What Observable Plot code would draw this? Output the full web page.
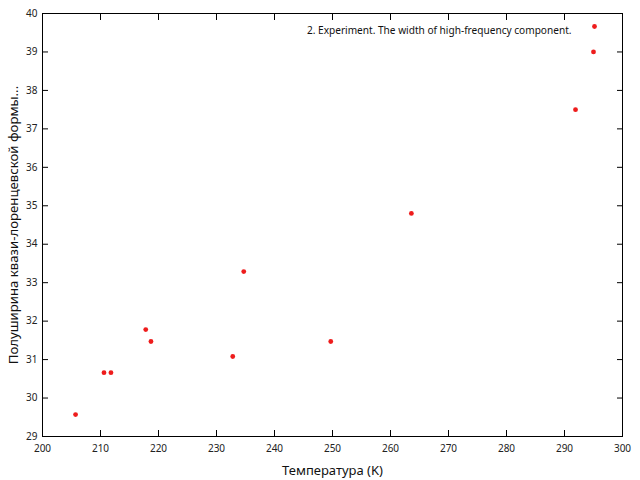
<!DOCTYPE html>
<html>
<head>
<meta charset="utf-8">
<script src="https://cdn.jsdelivr.net/npm/d3@7"></script>
<script src="https://cdn.jsdelivr.net/npm/@observablehq/plot@0.6"></script>
<style>
  html, body { margin: 0; padding: 0; background: #fff; }
  svg { font-family: "Noto Sans", "Open Sans", sans-serif; }
</style>
</head>
<body>
<div id="chart"></div>
<script>
const temperature = [205.7, 210.6, 211.8, 217.8, 218.7, 232.8, 234.7, 249.7, 263.6, 291.9, 295.0];
const halfWidth   = [29.57, 30.66, 30.66, 31.78, 31.47, 31.08, 33.29, 31.47, 34.80, 37.50, 39.00];
const xTicks = [200, 210, 220, 230, 240, 250, 260, 270, 280, 290, 300];
const yTicks = [29, 30, 31, 32, 33, 34, 35, 36, 37, 38, 39, 40];
const legendLabel = "2. Experiment. The width of high-frequency component.";
const xLabel = "Температура (K)";
const yLabel = "Полуширина квази-лоренцевской формы...";

const data = temperature.map((t, i) => ({t, w: halfWidth[i]}));
const red = "#ee1c1c";

const chart = Plot.plot({
  width: 640,
  height: 480,
  marginLeft: 42,
  marginRight: 18,
  marginTop: 13,
  marginBottom: 44,
  style: {fontFamily: "Noto Sans, Open Sans, sans-serif", fontSize: "10px", color: "#222"},
  x: {domain: [200, 300]},
  y: {domain: [29, 40]},
  marks: [
    Plot.frame({stroke: "#000"}),
    Plot.axisX(xTicks, {anchor: "bottom", tickSize: -6, tickFormat: () => "", label: null, stroke: "#000"}),
    Plot.axisX(xTicks, {anchor: "top", tickSize: -6, tickFormat: () => "", label: null, stroke: "#000"}),
    Plot.axisY(yTicks, {anchor: "left", tickSize: -6, tickFormat: () => "", label: null, stroke: "#000"}),
    Plot.axisY(yTicks, {anchor: "right", tickSize: -6, tickFormat: () => "", label: null, stroke: "#000"}),
    Plot.axisX(xTicks, {anchor: "bottom", tickSize: 0, tickPadding: 8, fontSize: 10, label: null}),
    Plot.axisY(yTicks, {anchor: "left", tickSize: 0, tickPadding: 5, fontSize: 10, label: null}),
    Plot.text([xLabel], {frameAnchor: "bottom", dy: 38, textAnchor: "middle", fontSize: 13, fill: "#111"}),
    Plot.text([yLabel], {frameAnchor: "left", dx: -29, rotate: -90, textAnchor: "middle", fontSize: 13.2, fill: "#111"}),
    Plot.dot(data, {x: "t", y: "w", r: 2.4, fill: red}),
    Plot.text([legendLabel], {frameAnchor: "top-right", dx: -51, dy: 13, textAnchor: "end", fontSize: 10.1, fill: "#111"}),
    Plot.dot([legendLabel], {frameAnchor: "top-right", dx: -28, dy: 13, r: 2.4, fill: red})
  ]
});
document.getElementById("chart").appendChild(chart);
</script>
</body>
</html>
